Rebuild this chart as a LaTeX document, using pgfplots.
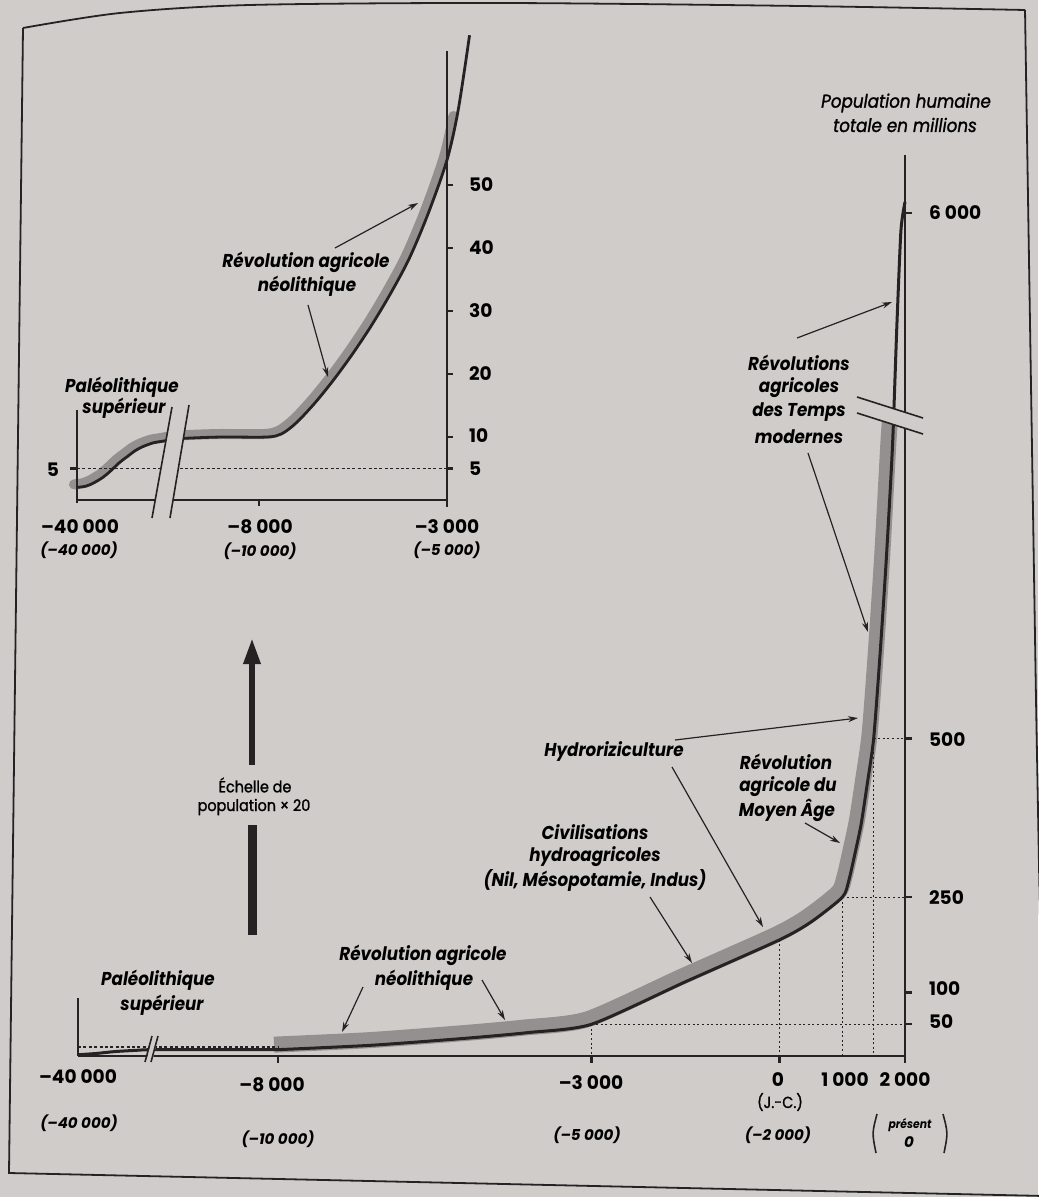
\documentclass[border=0pt]{standalone}
\usepackage{pgfplots}
\pgfplotsset{compat=1.18}
\usepackage{fontspec}
\setmainfont{Poppins}
\newfontfamily\lab[FakeStretch=0.9]{Poppins}
\newfontfamily\labmed[FakeStretch=0.9, FakeBold=1.3]{Poppins}
\usetikzlibrary{arrows.meta}
\definecolor{paper}{RGB}{207,204,202}
\definecolor{ink}{RGB}{38,34,35}
\definecolor{band}{RGB}{148,144,144}
\newcommand\bi{\lab\bfseries\itshape\fontsize{9.3pt}{11pt}\selectfont}
\newcommand\num{\bfseries\fontsize{9.3pt}{11pt}\selectfont}
\newcommand\sub{\bfseries\itshape\fontsize{7.5pt}{9pt}\selectfont}
\newcommand\ita{\labmed\itshape\fontsize{9.3pt}{11pt}\selectfont}
\newcommand\reg{\labmed\fontsize{8pt}{10pt}\selectfont}
\pgfplotstableread{
year pop
-8000 10
-6500 17
-5000 28
-4000 37
-3000 50
-1500 117
0 183
500 211
1000 250
1100 275
1200 318
1300 365
1400 430
1500 500
1600 630
1700 780
1800 960
1830 1000
}\mainband
\pgfplotstableread{
year pop
-8000 10
-6500 17
-5000 28
-4000 37
-3000 50
-1500 117
0 183
500 211
1000 250
1100 275
1200 318
1300 365
1400 430
1500 500
1600 630
1700 780
1800 960
1870 1150
1935 1300
2000 1345
}\maincurve
% inset: left part (before the break) on a compressed scale, then years
\pgfplotstableread{
u pop
-12840 2
-12600 2.2
-12400 2.7
-12150 3.6
-11950 4.6
-11700 6
-11500 6.9
-11300 7.8
-11080 8.5
-10800 9.1
-10600 9.3
-10300 9.6
-9968 9.8
-9000 10
-7800 10
-7400 10.5
-7000 12.3
-6500 15.5
-6000 19.2
-5500 23.3
-5000 27.8
-4500 32.8
-4000 38.4
-3500 45.5
-3000 54
-2700 62
-2400 73.8
}\inset
\pgfplotstableread{
u pop
-12840 2
-12600 2.2
-12400 2.7
-12150 3.6
-11950 4.6
-11700 6
-11500 6.9
-11300 7.8
-11080 8.5
-10800 9.1
-10600 9.3
-10300 9.6
-9968 9.8
-9000 10
-7800 10
-7400 10.5
-7000 12.3
-6500 15.5
-6000 19.2
-5500 23.3
-5000 27.8
-4500 32.8
-4000 38.4
-3500 45.5
-3000 54
-2750 60.5
}\insetband
\begin{document}
\begin{tikzpicture}
\begin{scope}[x=0.5pt,y=-0.5pt]
\fill[paper] (0,0) rectangle (1038,1197);
\draw[ink, line width=0.9pt] plot[smooth] coordinates {(23,28) (120,13) (250,5) (500,3) (800,6) (1025,10)};
\draw[ink, line width=0.9pt] (23,28) -- (9,1173) -- (1045,1196);
\draw[ink, line width=0.9pt] (1025,10) -- (1036,700) -- (1045,1197);
\end{scope}

% ---------------- main chart ----------------
\begin{axis}[at={(39pt,-528pt)}, anchor=south west, scale only axis,
  width=413.5pt, height=450.5pt, xmin=-11190, xmax=2000, ymin=0, ymax=1419,
  axis lines=none, clip=false]
\addplot[band, line width=8pt, line cap=butt, line join=round, smooth, tension=0.4, xshift=-2pt, yshift=2.5pt]
  table[x=year, y=pop] {\mainband};
\draw[ink, line width=0.7pt, dash pattern=on 1pt off 1.3pt] (axis cs:-3000,50) -- (axis cs:2000,50);
\draw[ink, line width=0.7pt, dash pattern=on 1pt off 1.3pt] (axis cs:1000,250) -- (axis cs:2000,250);
\draw[ink, line width=0.7pt, dash pattern=on 1pt off 1.3pt] (axis cs:1500,500) -- (axis cs:2000,500);
\draw[ink, line width=0.7pt, dash pattern=on 1pt off 1.3pt] (axis cs:-3000,50) -- (axis cs:-3000,0);
\draw[ink, line width=0.7pt, dash pattern=on 1pt off 1.3pt] (axis cs:0,183) -- (axis cs:0,0);
\draw[ink, line width=0.7pt, dash pattern=on 1pt off 1.3pt] (axis cs:1000,250) -- (axis cs:1000,0);
\draw[ink, line width=0.7pt, dash pattern=on 1pt off 1.3pt] (axis cs:1500,500) -- (axis cs:1500,0);
\draw[ink, line width=0.7pt, dash pattern=on 1.5pt off 1.2pt] (axis cs:-11190,14) -- (axis cs:-8000,14);
\addplot[ink, line width=1.5pt, line join=round, smooth, tension=0.4]
  table[x=year, y=pop] {\maincurve};
% left segment (-40 000, compressed scale beyond the break)
\addplot[ink, line width=1.5pt, smooth]
 coordinates {(-11190,2) (-10900,4) (-10600,7) (-10250,9) (-10000,10) (-9000,10) (-8000,10)};
\draw[ink, line width=1.2pt] (axis cs:-11190,0) -- (axis cs:2000,0);
\draw[ink, line width=1.2pt] (axis cs:2000,-11) -- (axis cs:2000,1419);
\draw[ink, line width=1.2pt] (axis cs:-11190,0) -- (axis cs:-11190,91);
\pgfplotsinvokeforeach{50,100,250,500,1328}{\draw[ink, line width=1.2pt] (axis cs:2000,#1) -- (axis cs:2112,#1);}
\pgfplotsinvokeforeach{-8000,-3000,0}{\draw[ink, line width=1.2pt] (axis cs:#1,0) -- (axis cs:#1,-11);}
\end{axis}

% ---------------- inset ----------------
\begin{axis}[at={(38.5pt,-250pt)}, anchor=south west, scale only axis,
  width=185pt, height=224.5pt, xmin=-12840, xmax=-3000, ymin=0, ymax=71.3,
  axis lines=none, clip=false]
\addplot[band, line width=5pt, line cap=round, smooth, xshift=-1.5pt, yshift=1.5pt]
  table[x=u, y=pop] {\insetband};
\draw[ink, line width=0.7pt, dash pattern=on 1.5pt off 1.2pt] (axis cs:-12840,5) -- (axis cs:-3000,5);
\addplot[ink, line width=1.4pt, smooth] table[x=u, y=pop] {\inset};
\draw[ink, line width=1.2pt] (axis cs:-12840,0) -- (axis cs:-3000,0);
\draw[ink, line width=1.2pt] (axis cs:-3000,-1.1) -- (axis cs:-3000,71.3);
\draw[ink, line width=1.2pt] (axis cs:-12840,-0.4) -- (axis cs:-12840,14.3);
\draw[ink, line width=1.2pt] (axis cs:-12840,5) -- (axis cs:-13026,5);
\pgfplotsinvokeforeach{5,10,20,30,40,50}{\draw[ink, line width=1.2pt] (axis cs:-3000,#1) -- (axis cs:-2840,#1);}
\draw[ink, line width=1.2pt] (axis cs:-8000,0) -- (axis cs:-8000,-0.95);
\end{axis}

\begin{scope}[x=0.5pt,y=-0.5pt]
% breaks
\fill[paper] (152,518) -- (172,407) -- (189,405) -- (170,518) -- cycle;
\draw[ink, line width=0.8pt] (152,518) -- (172,407) (170,518) -- (189,405);
\fill[paper] (147,1058) -- (152,1038) -- (158,1038) -- (153,1058) -- cycle;
\draw[ink, line width=0.8pt] (145,1062) -- (152,1036) (151,1062) -- (158,1036);
\fill[paper] (857,397) -- (923,418) -- (923,434) -- (857,413) -- cycle;
\draw[ink, line width=0.8pt] (857,397) -- (923,418) (857,413) -- (923,434);

% inset labels
\node[font=\bi] at (122,387) {Paléolithique};
\node[font=\bi] at (124,408) {supérieur};
\node[font=\bi] at (306,262) {Révolution agricole};
\node[font=\bi] at (307,286) {néolithique};
\draw[ink, line width=0.6pt, -{Stealth[length=5pt,width=3pt]}] (335,248) -- (418,203);
\draw[ink, line width=0.6pt, -{Stealth[length=5pt,width=3pt]}] (308,305) -- (328,377);
\node[font=\num] at (53,470) {5};
\node[font=\num, anchor=west] at (462,185) {50};
\node[font=\num, anchor=west] at (462,248) {40};
\node[font=\num, anchor=west] at (462,311) {30};
\node[font=\num, anchor=west] at (462,374) {20};
\node[font=\num, anchor=west] at (462,436) {10};
\node[font=\num, anchor=west] at (462,469) {5};
\node[font=\num] at (80,527) {–40 000};
\node[font=\sub] at (79,550) {(–40 000)};
\node[font=\num] at (260,527) {–8 000};
\node[font=\sub] at (260,551) {(–10 000)};
\node[font=\num] at (447,527) {–3 000};
\node[font=\sub] at (447,550) {(–5 000)};

% main labels
\node[font=\bi] at (158,980) {Paléolithique};
\node[font=\bi] at (162,1005) {supérieur};
\node[font=\bi] at (423,955) {Révolution agricole};
\node[font=\bi] at (424,980) {néolithique};
\draw[ink, line width=0.6pt, -{Stealth[length=5pt,width=3pt]}] (363,987) -- (342,1032);
\draw[ink, line width=0.6pt, -{Stealth[length=5pt,width=3pt]}] (482,980) -- (505,1020);
\node[font=\reg] at (255,785) {Échelle de};
\node[font=\reg] at (254,807) {population × 20};
\draw[ink, line width=3pt, -{Triangle[length=13pt,width=8pt]}] (252,765) -- (252,638);
\draw[ink, line width=4.5pt] (252,825) -- (252,935);
\node[font=\bi] at (614,752) {Hydroriziculture};
\draw[ink, line width=0.6pt, -{Stealth[length=5pt,width=3pt]}] (675,740) -- (858,718);
\draw[ink, line width=0.6pt, -{Stealth[length=5pt,width=3pt]}] (672,767) -- (763,927);
\node[font=\bi] at (786,762) {Révolution};
\node[font=\bi] at (788,787) {agricole du};
\node[font=\bi] at (787,810) {Moyen Âge};
\draw[ink, line width=0.6pt, -{Stealth[length=5pt,width=3pt]}] (805,823) -- (840,843);
\node[font=\bi] at (595,832) {Civilisations};
\node[font=\bi] at (595,857) {hydroagricoles};
\node[font=\bi] at (595,880) {(Nil, Mésopotamie, Indus)};
\draw[ink, line width=0.6pt, -{Stealth[length=5pt,width=3pt]}] (650,897) -- (692,963);
\node[font=\bi] at (799,363) {Révolutions};
\node[font=\bi] at (799,388) {agricoles};
\node[font=\bi] at (799,412) {des Temps};
\node[font=\bi] at (799,437) {modernes};
\draw[ink, line width=0.6pt, -{Stealth[length=5pt,width=3pt]}] (797,338) -- (892,302);
\draw[ink, line width=0.6pt, -{Stealth[length=5pt,width=3pt]}] (808,453) -- (868,632);
\node[font=\ita] at (906,103) {Population humaine};
\node[font=\ita] at (905,125) {totale en millions};
\node[font=\num, anchor=west] at (922,213) {6 000};
\node[font=\num, anchor=west] at (922,740) {500};
\node[font=\num, anchor=west] at (922,898) {250};
\node[font=\num, anchor=west] at (922,989) {100};
\node[font=\num, anchor=west] at (922,1022) {50};
\node[font=\num] at (78,1077) {–40 000};
\node[font=\sub] at (79,1123) {(–40 000)};
\node[font=\num] at (272,1085) {–8 000};
\node[font=\sub] at (278,1139) {(–10 000)};
\node[font=\num] at (591,1083) {–3 000};
\node[font=\sub] at (587,1135) {(–5 000)};
\node[font=\num] at (778,1080) {0};
\node[font=\reg] at (780,1102) {(J.-C.)};
\node[font=\sub] at (778,1135) {(–2 000)};
\node[font=\num] at (845,1080) {1 000};
\node[font=\num] at (905,1080) {2 000};
\node[font=\bi\fontsize{6pt}{7pt}\selectfont] at (910,1125) {présent};
\node[font=\sub] at (909,1142) {0};
\draw[ink, line width=0.8pt] (877,1114) .. controls (872,1133) .. (876,1153);
\draw[ink, line width=0.8pt] (943,1114) .. controls (948,1133) .. (944,1153);
\end{scope}
\pgfresetboundingbox
\path[use as bounding box] (0,0) rectangle (519pt,-598.5pt);
\end{tikzpicture}
\end{document}
